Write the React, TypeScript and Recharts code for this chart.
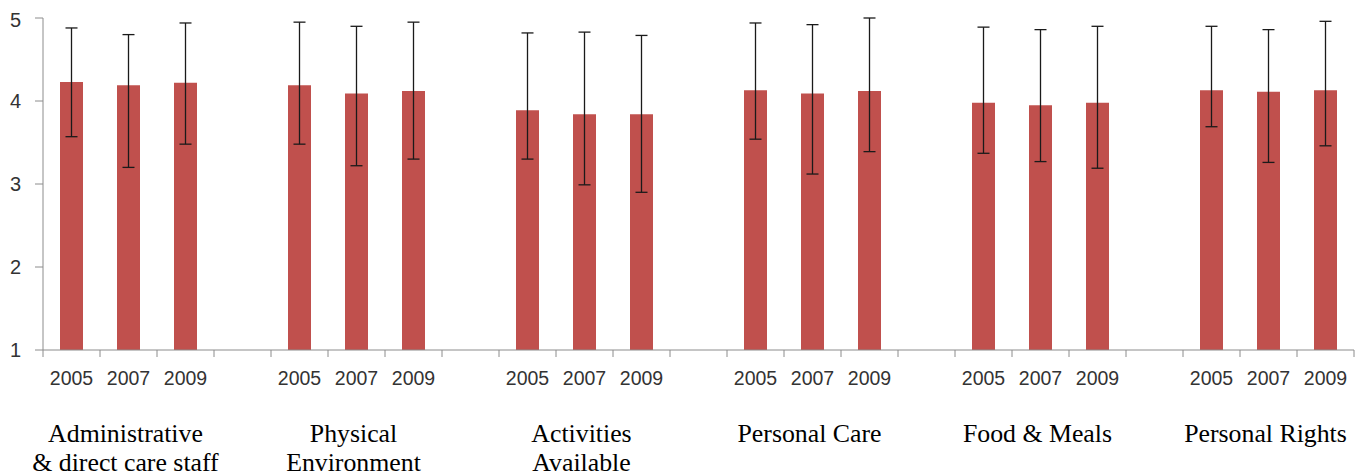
import React from "react";
import { BarChart, Bar, XAxis, YAxis, ErrorBar } from "recharts";

const GROUPS = [
    ["Administrative", "& direct care staff"],
    ["Physical", "Environment"],
    ["Activities", "Available"],
    ["Personal Care"],
    ["Food & Meals"],
    ["Personal Rights"]
];
const YEARS = ["2005", "2007", "2009"];
const MEANS = [
    [4.23, 4.19, 4.22],
    [4.19, 4.09, 4.12],
    [3.89, 3.84, 3.84],
    [4.13, 4.09, 4.12],
    [3.98, 3.95, 3.98],
    [4.13, 4.11, 4.13]
];
const UPPER = [
    [4.88, 4.8, 4.94],
    [4.95, 4.9, 4.95],
    [4.82, 4.83, 4.79],
    [4.94, 4.92, 5.0],
    [4.89, 4.86, 4.9],
    [4.9, 4.86, 4.96]
];
const LOWER = [
    [3.57, 3.2, 3.48],
    [3.48, 3.22, 3.3],
    [3.3, 2.99, 2.9],
    [3.54, 3.12, 3.39],
    [3.37, 3.27, 3.19],
    [3.69, 3.26, 3.46]
];
const Y_TICKS = [1, 2, 3, 4, 5];

const BAR_COLOR = "#C0504D";
const AXIS_COLOR = "#8c8c8c";

// one slot per bar, plus an empty slot between groups
const data: any[] = [];
GROUPS.forEach((label, g) => {
    YEARS.forEach((year, i) => {
        const mean = MEANS[g][i];
        data.push({
            key: `${g}-${year}`,
            year,
            label: i === 1 ? label : null,
            mean,
            err: [mean - LOWER[g][i], UPPER[g][i] - mean]
        });
    });
    if (g < GROUPS.length - 1) {
        data.push({ key: `gap-${g}`, year: "", label: null, mean: null, err: null });
    }
});

const XTick = (props: any) => {
    const { x, y, index, width, visibleTicksCount } = props;
    const half = width / visibleTicksCount / 2;
    const row = data[index];
    return (
        <g>
            <line x1={x - half} x2={x - half} y1={y} y2={y + 7} stroke={AXIS_COLOR} />
            {index === visibleTicksCount - 1 && (
                <line x1={x + half} x2={x + half} y1={y} y2={y + 7} stroke={AXIS_COLOR} />
            )}
            <text x={x} y={y + 35} textAnchor="middle" fill="#333" fontFamily="Liberation Sans" fontSize={19.5}>
                {row.year}
            </text>
            {row.label && (
                <text x={x - 3} y={y + 92} textAnchor="middle" fill="#000" fontFamily="Liberation Serif" fontSize={25.8}>
                    {row.label.map((line: string, i: number) => (
                        <tspan key={i} x={x - 3} dy={i ? 29 : 0}>
                            {line}
                        </tspan>
                    ))}
                </text>
            )}
        </g>
    );
};

const App = () => {
    return (
        <BarChart
            width={1355}
            height={468}
            data={data}
            barSize={23}
            margin={{ top: 10, right: 9, left: 0, bottom: 0 }}>
            <XAxis
                dataKey="key"
                interval={0}
                height={126}
                tickSize={0}
                tickMargin={0}
                tickLine={false}
                stroke={AXIS_COLOR}
                tick={<XTick />}
            />
            <YAxis
                domain={[1, 5]}
                ticks={Y_TICKS}
                width={35}
                tickSize={8}
                tickMargin={14}
                stroke={AXIS_COLOR}
                tick={{ fill: "#333", fontFamily: "Liberation Sans", fontSize: 20 }}
            />
            <Bar dataKey="mean" fill={BAR_COLOR} isAnimationActive={false}>
                <ErrorBar dataKey="err" width={6} stroke="#1a1a1a" strokeWidth={1.3} isAnimationActive={false} />
            </Bar>
        </BarChart>
    );
};

export default App;
